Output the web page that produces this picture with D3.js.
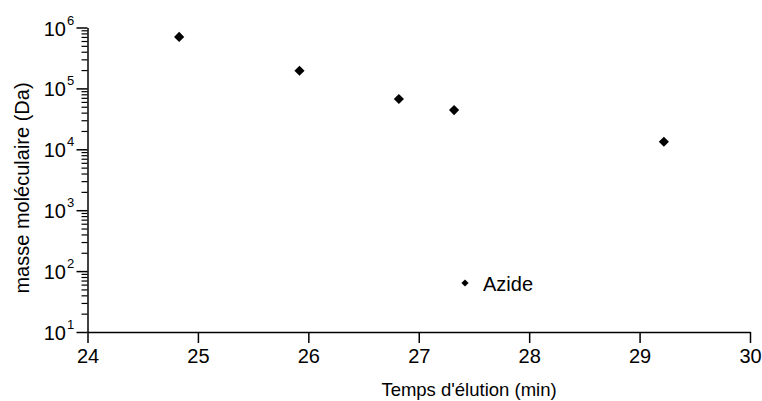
<!DOCTYPE html>
<html>
<head>
<meta charset="utf-8">
<script src="https://cdn.jsdelivr.net/npm/d3@7"></script>
<style>
  body { margin: 0; background: #fff; }
  svg text { font-family: "Liberation Sans", Arial, sans-serif; fill: #000; }
</style>
</head>
<body>
<div class="chart"></div>
<script>
/* data */
const elutionTime = [24.83, 25.92, 26.82, 27.32, 29.22]
const molecularMass = [7.0e5, 1.95e5, 6.7e4, 4.4e4, 1.33e4]
const xTicks = [24, 25, 26, 27, 28, 29, 30]
const yExponents = [1, 2, 3, 4, 5, 6]
const seriesName = 'Azide'

const width = 762
const height = 401

const svg = d3.select('.chart')
    .append('svg')
    .attr('width', width)
    .attr('height', height)

const x = d3.scaleLinear().domain([24, 30]).range([87.5, 750])
const y = d3.scaleLog().domain([10, 1e6]).range([332, 27.5])

// minor ticks 2..9 of every decade
const minorTicks = []
yExponents.slice(0, -1).forEach(e => {
    for (let m = 2; m <= 9; m++) minorTicks.push(m * Math.pow(10, e))
})

/* x axis */
const xAxis = svg.append('g')
    .attr('transform', `translate(0,${y(10)})`)
    .call(d3.axisBottom(x).tickValues(xTicks).tickFormat(d3.format('d'))
        .tickSize(11).tickSizeOuter(0).tickPadding(6))
xAxis.selectAll('path, line').attr('stroke', '#000').attr('stroke-width', 1.5)
xAxis.selectAll('text').style('font-size', '20px').attr('fill', '#000')

/* y axis: majors then minors */
const yAxis = svg.append('g')
    .attr('transform', `translate(${x(24)},0)`)
    .call(d3.axisLeft(y).tickValues(yExponents.map(e => Math.pow(10, e))).tickSize(11).tickSizeOuter(0).tickFormat(''))
yAxis.selectAll('path, line').attr('stroke', '#000').attr('stroke-width', 1.5)

const yMinor = svg.append('g')
    .attr('transform', `translate(${x(24)},0)`)
    .call(d3.axisLeft(y).tickValues(minorTicks).tickSize(6).tickFormat(''))
yMinor.select('.domain').remove()
yMinor.selectAll('line').attr('stroke', '#000').attr('stroke-width', 1.2)

// labels 10^n with superscript
const yLab = svg.append('g')
yExponents.forEach(e => {
    const yy = y(Math.pow(10, e))
    yLab.append('text')
        .attr('x', 66)
        .attr('y', yy + 8)
        .attr('text-anchor', 'end')
        .style('font-size', '20px')
        .text('10')
    yLab.append('text')
        .attr('x', 67)
        .attr('y', yy - 3)
        .style('font-size', '13px')
        .text(e)
})

/* axis titles */
svg.append('text')
    .attr('x', 469)
    .attr('y', 396)
    .attr('text-anchor', 'middle')
    .style('font-size', '18.5px')
    .text("Temps d'élution (min)")

svg.append('text')
    .attr('transform', 'translate(29,188) rotate(-90)')
    .attr('text-anchor', 'middle')
    .style('font-size', '20px')
    .text('masse moléculaire (Da)')

/* points */
const diamond = d3.symbol().type(d3.symbolSquare)
svg.append('g')
    .selectAll('path')
    .data(elutionTime.map((t, i) => [t, molecularMass[i]]))
    .join('path')
    .attr('d', diamond.size(52)())
    .attr('transform', d => `translate(${x(d[0])},${y(d[1])}) rotate(45)`)
    .attr('fill', '#000')

/* legend */
const legend = svg.append('g').attr('transform', 'translate(465,283)')
legend.append('path')
    .attr('d', d3.symbol().type(d3.symbolSquare).size(26)())
    .attr('transform', 'rotate(45)')
    .attr('fill', '#000')
legend.append('text')
    .attr('x', 18)
    .attr('y', 8)
    .style('font-size', '20px')
    .text(seriesName)
</script>
</body>
</html>
